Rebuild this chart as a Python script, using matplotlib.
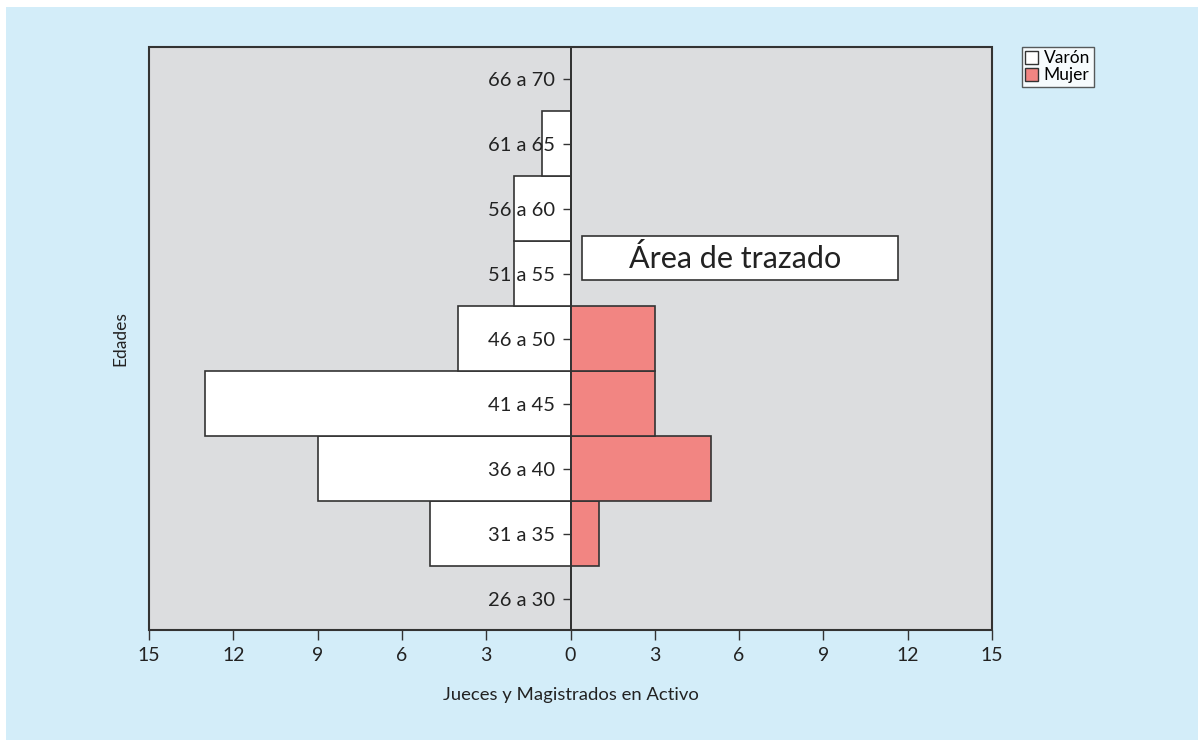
import matplotlib
matplotlib.use("Agg")
import matplotlib.pyplot as plt
from matplotlib.patches import Rectangle, Patch

plt.rcParams['font.family'] = ['Lato', 'DejaVu Sans']

categories = ["26 a 30", "31 a 35", "36 a 40", "41 a 45", "46 a 50",
              "51 a 55", "56 a 60", "61 a 65", "66 a 70"]
varon = [0, 5, 9, 13, 4, 2, 2, 1, 0]
mujer = [0, 1, 5, 3, 3, 0, 0, 0, 0]
xticks = [-15, -12, -9, -6, -3, 0, 3, 6, 9, 12, 15]
xticklabels = ["15", "12", "9", "6", "3", "0", "3", "6", "9", "12", "15"]

W, H = 1198, 740
fig = plt.figure(figsize=(W / 100, H / 100), dpi=100)
fig.patch.set_facecolor('#d3edf9')
fig.patches.append(Rectangle((0, 1 - 7 / H), 1, 7 / H, transform=fig.transFigure,
                             facecolor='white', edgecolor='none', zorder=-1))
fig.patches.append(Rectangle((0, 0), 6 / W, 1, transform=fig.transFigure,
                             facecolor='white', edgecolor='none', zorder=-1))

ax = fig.add_axes([149 / W, 1 - 630 / H, (992 - 149) / W, (630 - 47) / H])
ax.set_facecolor('#dcdddf')
ax.set_axisbelow(False)

# y axis at center (set before tick labels, since it resets ticks)
ax.spines['left'].set_position(('data', 0))
ax.spines['right'].set_visible(False)
ax.spines['top'].set_visible(False)

y = list(range(len(categories)))
ax.barh(y, [-v for v in varon], height=1.0, color='white', edgecolor='#333333',
        linewidth=1.2, label='Varón', zorder=1.2)
ax.barh(y, mujer, height=1.0, color='#f28582', edgecolor='#333333',
        linewidth=1.2, label='Mujer', zorder=1.2)

ax.set_xlim(-15, 15)
ax.set_ylim(-0.48, 8.49)
ax.set_xticks(xticks)
ax.set_xticklabels(xticklabels, fontsize=14, color='#222222')
ax.set_yticks(y)
ax.set_yticklabels(categories, fontsize=14.5, color='#222222')

for s in ['left', 'bottom']:
    ax.spines[s].set_color('#333333')
    ax.spines[s].set_linewidth(1.2)
ax.tick_params(axis='y', length=6, width=1, color='#333333', pad=5)
ax.tick_params(axis='x', length=7, width=1, color='#333333', pad=5)

# frame of the plot area
ax.add_patch(Rectangle((0, 0), 1, 1, transform=ax.transAxes, fill=False,
                       edgecolor='#333333', linewidth=1.5, zorder=4, clip_on=False))

# "Área de trazado" box
ax.add_patch(Rectangle((0.4, 4.9), 11.25, 0.68, facecolor='white',
                       edgecolor='#333333', linewidth=1.2, zorder=5))
ax.text(5.85, 5.24, "Área de trazado", fontsize=22, color='#222222',
        ha='center', va='center', zorder=6)

ax.set_xlabel("Jueces y Magistrados en Activo", fontsize=13.3, color='#222222', labelpad=17)
ax.set_ylabel("Edades", fontsize=12.5, color='#222222')
ax.yaxis.set_label_coords(-0.025, 0.5)

handles = [Patch(facecolor='white', edgecolor='#333333', label='Varón'),
           Patch(facecolor='#f28582', edgecolor='#333333', label='Mujer')]
leg = fig.legend(handles=handles, loc='upper left',
                 bbox_to_anchor=(1022 / W, 1 - 47 / H), fontsize=12.5,
                 frameon=True, fancybox=False, handlelength=0.75, handleheight=0.75,
                 handletextpad=0.3, borderpad=0.2, labelspacing=0.05,
                 borderaxespad=0)
leg.get_frame().set_edgecolor('#333333')
leg.get_frame().set_linewidth(1.0)
leg.get_frame().set_facecolor('white')

fig.savefig("out.png", dpi=100)
